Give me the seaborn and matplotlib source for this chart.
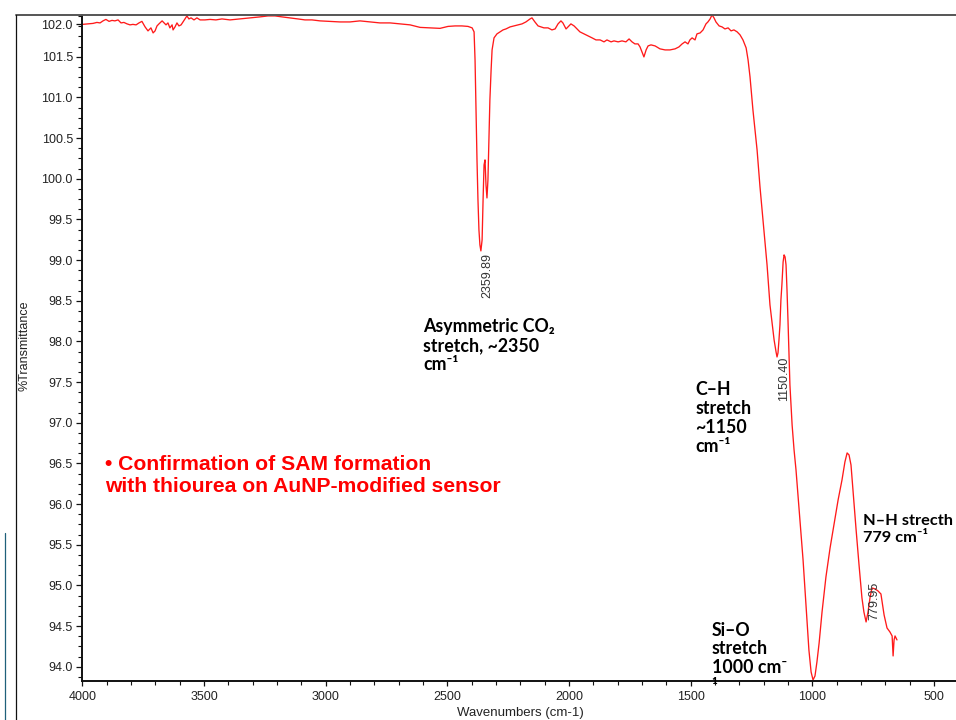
import numpy as np
import pandas as pd
import matplotlib
matplotlib.use("Agg")
import matplotlib.pyplot as plt
import seaborn as sns
from matplotlib.ticker import FixedLocator, FixedFormatter, MultipleLocator
from matplotlib.lines import Line2D

# ---------------- data ----------------
wavenumber = [
    3999, 3977, 3956, 3940, 3927, 3915, 3903, 3890, 3878, 3866, 3853, 3841, 3829, 3816, 3804,
    3792, 3779, 3767, 3755, 3742, 3730, 3718, 3709, 3701, 3693, 3685, 3672, 3664, 3656, 3648,
    3640, 3631, 3627, 3619, 3611, 3603, 3594, 3586, 3578, 3570, 3562, 3553, 3541, 3529, 3516,
    3496, 3475, 3451, 3426, 3393, 3352, 3311, 3270, 3237, 3208, 3179, 3146, 3114, 3085, 3056,
    3023, 2982, 2941, 2900, 2859, 2818, 2777, 2735, 2694, 2653, 2612, 2571, 2530, 2497, 2468,
    2440, 2415, 2398, 2390,
    2386, 2382, 2378, 2374, 2370, 2366, 2362, 2357, 2353, 2349, 2345, 2341, 2337, 2333, 2329,
    2325, 2320, 2316, 2308, 2296, 2283, 2271, 2259, 2242, 2226, 2209, 2193, 2177, 2160, 2152,
    2140, 2127, 2115, 2103, 2086, 2070, 2057, 2045, 2033, 2025, 2012, 2004, 1992, 1979, 1967,
    1955, 1938, 1922, 1905, 1889, 1872, 1856, 1844, 1827, 1815, 1798, 1782, 1766, 1753, 1741,
    1729, 1716, 1708, 1700, 1692, 1683, 1675, 1663, 1646, 1626, 1605, 1585, 1564, 1548, 1535,
    1523, 1511, 1503, 1494, 1482, 1474, 1461, 1449, 1437, 1429, 1420, 1412, 1404, 1396, 1383,
    1371, 1359, 1346, 1334, 1322, 1309, 1297, 1285, 1272, 1264, 1256, 1244, 1227, 1215, 1198,
    1186, 1174, 1157, 1149, 1145, 1141, 1137, 1133, 1129, 1125, 1120, 1116, 1112, 1108, 1104,
    1100, 1092, 1083, 1075, 1067, 1059, 1051, 1038, 1026, 1014, 1005, 997, 989, 981, 972,
    960, 944, 927, 911, 894, 878, 866, 857, 849, 841, 833, 820, 808, 796, 788,
    779, 771, 763, 755, 742, 730, 718, 705, 693, 681, 672, 668, 664, 660, 652,
]
transmittance = [
    101.897, 101.903, 101.909, 101.921, 101.915, 101.940, 101.958, 101.934, 101.946, 101.940,
    101.952, 101.915, 101.921, 101.903, 101.891, 101.897, 101.891, 101.915, 101.934, 101.866,
    101.817, 101.854, 101.792, 101.817, 101.878, 101.903, 101.940, 101.915, 101.891, 101.915,
    101.854, 101.891, 101.829, 101.866, 101.915, 101.878, 101.891, 101.927, 101.964, 102.001,
    101.964, 101.977, 101.952, 101.977, 101.952, 101.952, 101.958, 101.952, 101.964, 101.952,
    101.964, 101.977, 101.989, 102.001, 102.001, 101.989, 101.977, 101.964, 101.952, 101.952,
    101.940, 101.934, 101.927, 101.927, 101.940, 101.927, 101.915, 101.915, 101.903, 101.891,
    101.860, 101.854, 101.848, 101.872, 101.878, 101.878, 101.872, 101.854, 101.805,
    101.460, 100.845, 100.231, 99.739, 99.370, 99.186, 99.112, 99.247, 99.739, 100.169,
    100.231, 99.923, 99.763, 99.985, 100.477, 100.968, 101.337, 101.583, 101.731, 101.780,
    101.805, 101.829, 101.841, 101.866, 101.878, 101.891, 101.903, 101.927, 101.964, 101.977,
    101.927, 101.878, 101.866, 101.854, 101.854, 101.829, 101.841, 101.903, 101.940, 101.915,
    101.841, 101.866, 101.903, 101.878, 101.841, 101.805, 101.780, 101.755, 101.731, 101.706,
    101.706, 101.682, 101.706, 101.682, 101.694, 101.682, 101.694, 101.682, 101.718, 101.682,
    101.657, 101.657, 101.620, 101.559, 101.497, 101.583, 101.632, 101.645, 101.632, 101.596,
    101.583, 101.583, 101.596, 101.620, 101.657, 101.682, 101.657, 101.706, 101.731, 101.706,
    101.780, 101.792, 101.829, 101.903, 101.927, 101.964, 102.014, 101.977, 101.927, 101.878,
    101.866, 101.841, 101.854, 101.817, 101.829, 101.805, 101.768, 101.706, 101.608, 101.460,
    101.251, 100.845, 100.354, 99.899, 99.345, 98.940, 98.448, 98.017, 97.870, 97.808,
    97.858, 98.017, 98.202, 98.509, 98.694, 98.976, 99.063, 99.038, 98.940, 98.632,
    98.263, 97.464, 96.972, 96.665, 96.419, 96.112, 95.804, 95.312, 94.759, 94.206,
    93.935, 93.837, 93.886, 94.058, 94.292, 94.673, 95.103, 95.460, 95.743, 96.050,
    96.296, 96.517, 96.628, 96.603, 96.480, 96.173, 95.681, 95.251, 94.845, 94.673,
    94.550, 94.673, 94.845, 94.968, 94.956, 94.931, 94.894, 94.636, 94.476, 94.427,
    94.378, 94.132, 94.329, 94.378, 94.329,
]

ytick_values = [94.0, 94.5, 95.0, 95.5, 96.0, 96.5, 97.0, 97.5, 98.0, 98.5, 99.0,
                99.5, 100.0, 100.5, 101.0, 101.5, 101.9]
ytick_labels = ["94.0", "94.5", "95.0", "95.5", "96.0", "96.5", "97.0", "97.5", "98.0",
                "98.5", "99.0", "99.5", "100.0", "100.5", "101.0", "101.5", "102.0"]

peak_labels = ["2359.89", "1150.40", "779.95"]
peak_label_x = [2337, 1116, 746]
peak_label_y = [99.087, 97.81, 95.04]

notes = [
    "Asymmetric CO\u2082\nstretch, ~2350\ncm\u207b\u00b9",
    "C\u2013H\nstretch\n~1150\ncm\u207b\u00b9",
    "N\u2013H strecth\n779 cm\u207b\u00b9",
    "Si\u2013O\nstretch\n1000 cm\u207b\n\u00b9",
]
note_x = [2600, 1482, 792, 1413]
note_y = [97.648, 96.640, 95.537, 93.689]   # baseline of each note's last line
note_size = [12.8, 12.8, 11.8, 12.8]

headline = "\u2022 Confirmation of SAM formation\nwith thiourea on AuNP-modified sensor"
headline_x = 3907
headline_y = 96.148

# ---------------- figure ----------------
sns.set_style("ticks")
plt.rcParams["font.family"] = ["Liberation Sans", "DejaVu Sans"]

fig = plt.figure(figsize=(9.56, 7.2), dpi=100)
ax = fig.add_axes([82.3 / 956, 1 - 681 / 720, 1 - 82.3 / 956, (681 - 14.7) / 720])

df = pd.DataFrame({"wavenumber": wavenumber, "transmittance": transmittance})
sns.lineplot(data=df, x="wavenumber", y="transmittance", sort=False, estimator=None,
             color="#ff1a1a", lw=0.95, ax=ax)

ax.set_xlim(4000, 409.5)
ax.set_ylim(93.824, 102.016)
ax.set_xlabel("")
ax.set_ylabel("")

ax.xaxis.set_major_locator(MultipleLocator(500))
ax.xaxis.set_minor_locator(MultipleLocator(100))
ax.yaxis.set_major_locator(FixedLocator(ytick_values))
ax.yaxis.set_major_formatter(FixedFormatter(ytick_labels))
ax.yaxis.set_minor_locator(MultipleLocator(0.125))

for s in ["top", "right"]:
    ax.spines[s].set_visible(False)
for s in ["left", "bottom"]:
    ax.spines[s].set_linewidth(1.4)
    ax.spines[s].set_color("#111111")

ax.tick_params(axis="both", which="major", direction="out", length=4.3, width=0.9,
               labelsize=9, colors="#111111", labelcolor="#222222", pad=2.5)
ax.tick_params(axis="both", which="minor", direction="out", length=2.6, width=0.8,
               colors="#111111")
ax.tick_params(axis="x", which="major", length=3.5, pad=4)

# peak labels
for lab, px, py in zip(peak_labels, peak_label_x, peak_label_y):
    ax.text(px, py, lab, rotation=90, ha="center", va="top", fontsize=9, color="#333333")

# annotations
for txt, nx, ny, fs in zip(notes, note_x, note_y, note_size):
    ax.text(nx, ny, txt, ha="left", va="baseline", fontsize=fs, fontweight="bold",
            color="black", linespacing=1.13 * 12.8 / fs, family=["Lato", "DejaVu Sans"])

ax.text(headline_x, headline_y, headline, ha="left", va="baseline", fontsize=15.2,
        fontweight="bold", color="#ff0000", linespacing=1.2,
        family=["Liberation Sans", "DejaVu Sans"])

# axis titles
fig.text(25 / 956, 1 - 346 / 720, "%Transmittance", rotation=90, ha="center", va="center",
         fontsize=9, color="#222222")
fig.text(520 / 956, 1 - 713 / 720, "Wavenumbers (cm-1)", ha="center", va="center",
         fontsize=9.5, color="#222222")

# slide frame decorations
fig.add_artist(Line2D([15.7 / 956, 1.0], [1 - 14.7 / 720] * 2, color="#555555", lw=1.4))
fig.add_artist(Line2D([15.7 / 956] * 2, [0, 1 - 14.7 / 720], color="#111111", lw=0.9))
fig.add_artist(Line2D([5.3 / 956] * 2, [0, 1 - 533 / 720], color="#1f607a", lw=0.9))

fig.savefig("out.png", dpi=100)
